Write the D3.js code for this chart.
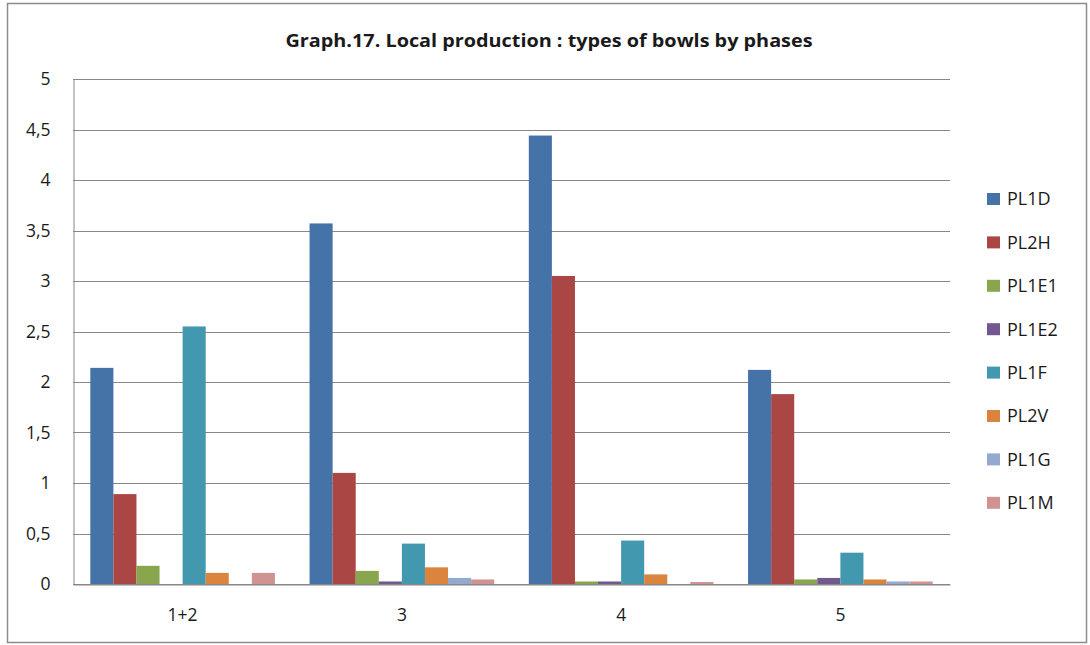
<!DOCTYPE html>
<html><head><meta charset="utf-8">
<script src="https://cdn.jsdelivr.net/npm/d3@7"></script>
<style>body{margin:0;background:#fff}svg{display:block}</style>
</head><body>
<svg id="c" width="1090" height="645"></svg>
<script>
const title = "Graph.17. Local production : types of bowls by phases";
const categories = ["1+2", "3", "4", "5"];
const seriesNames = ["PL1D", "PL2H", "PL1E1", "PL1E2", "PL1F", "PL2V", "PL1G", "PL1M"];
const seriesColors = ["#4572A7", "#AA4643", "#89A54E", "#71588F", "#4198AF", "#DB843D", "#93A9CF", "#D19392"];
const PL1D  = [2.14, 3.57, 4.44, 2.12];
const PL2H  = [0.89, 1.10, 3.05, 1.88];
const PL1E1 = [0.18, 0.13, 0.025, 0.045];
const PL1E2 = [0, 0.025, 0.025, 0.06];
const PL1F  = [2.55, 0.40, 0.43, 0.31];
const PL2V  = [0.11, 0.165, 0.095, 0.045];
const PL1G  = [0, 0.06, 0, 0.025];
const PL1M  = [0.11, 0.045, 0.02, 0.025];
const yTicks = [0, 0.5, 1, 1.5, 2, 2.5, 3, 3.5, 4, 4.5, 5];
const yTickLabels = ["0", "0,5", "1", "1,5", "2", "2,5", "3", "3,5", "4", "4,5", "5"];

const values = [PL1D, PL2H, PL1E1, PL1E2, PL1F, PL2V, PL1G, PL1M];
const svg = d3.select("#c");
const font = "'Open Sans', 'DejaVu Sans', sans-serif";
const txt = "#1a1a1a";

// outer border
svg.append("rect").attr("x", 7.5).attr("y", 3.5).attr("width", 1079).attr("height", 639)
  .attr("fill", "#fff").attr("stroke", "#8c8c8c").attr("stroke-width", 1.5);

const L = 73, R = 950, T = 79, B = 584;
const x = d3.scaleBand().domain(categories).range([L, R]).paddingInner(0).paddingOuter(0);
const y = d3.scaleLinear().domain([0, 5]).range([B, T]);
const gap = 1.5;
const x1 = d3.scaleBand().domain(seriesNames).range([0, x.bandwidth()])
  .paddingInner(0).paddingOuter(gap / 2);

// gridlines
svg.append("g").selectAll("line").data(yTicks).join("line")
  .attr("x1", L).attr("x2", R)
  .attr("y1", d => Math.round(y(d)) + 0.5).attr("y2", d => Math.round(y(d)) + 0.5)
  .attr("stroke", "#878787").attr("stroke-width", 1);

// y axis
const yAxis = d3.axisLeft(y).tickValues(yTicks).tickFormat((d, i) => yTickLabels[i]).tickSize(0).tickPadding(23);
const gy = svg.append("g").attr("transform", `translate(${L + 0.5},0)`).call(yAxis);
gy.select(".domain").attr("stroke", "#878787");
gy.selectAll("text").attr("font-family", font).attr("font-size", 17.5).attr("fill", txt);

// bars
const groups = svg.append("g").selectAll("g").data(categories).join("g")
  .attr("transform", d => `translate(${x(d)},0)`);
groups.selectAll("rect").data((c, ci) => seriesNames.map((s, si) => ({ s, si, v: values[si][ci] })))
  .join("rect")
  .attr("x", d => x1(d.s))
  .attr("width", x1.bandwidth())
  .attr("y", d => y(d.v))
  .attr("height", d => B - y(d.v))
  .attr("fill", d => seriesColors[d.si]);

// x axis
const xAxis = d3.axisBottom(x).tickSize(0).tickPadding(24);
const gx = svg.append("g").attr("transform", `translate(0,${B + 0.5})`).call(xAxis);
gx.select(".domain").attr("stroke", "#878787");
gx.selectAll("text").attr("font-family", font).attr("font-size", 17.5).attr("fill", txt);

// title
svg.append("text").attr("x", 549).attr("y", 47).attr("text-anchor", "middle")
  .attr("font-family", "'Liberation Sans Narrow', 'Open Sans', sans-serif")
  .attr("font-weight", "bold").attr("font-size", 18).attr("fill", txt)
  .attr("textLength", 527).attr("lengthAdjust", "spacingAndGlyphs")
  .text(title);

// legend
const lg = svg.append("g").selectAll("g").data(seriesNames).join("g")
  .attr("transform", (d, i) => `translate(987,${199 + i * 43.4})`);
lg.append("rect").attr("x", 0).attr("y", -6).attr("width", 13).attr("height", 12)
  .attr("fill", (d, i) => seriesColors[i]);
lg.append("text").attr("x", 20).attr("y", 0).attr("dy", "0.35em")
  .attr("font-family", font).attr("font-size", 18).attr("fill", txt).text(d => d);
</script>
</body></html>
